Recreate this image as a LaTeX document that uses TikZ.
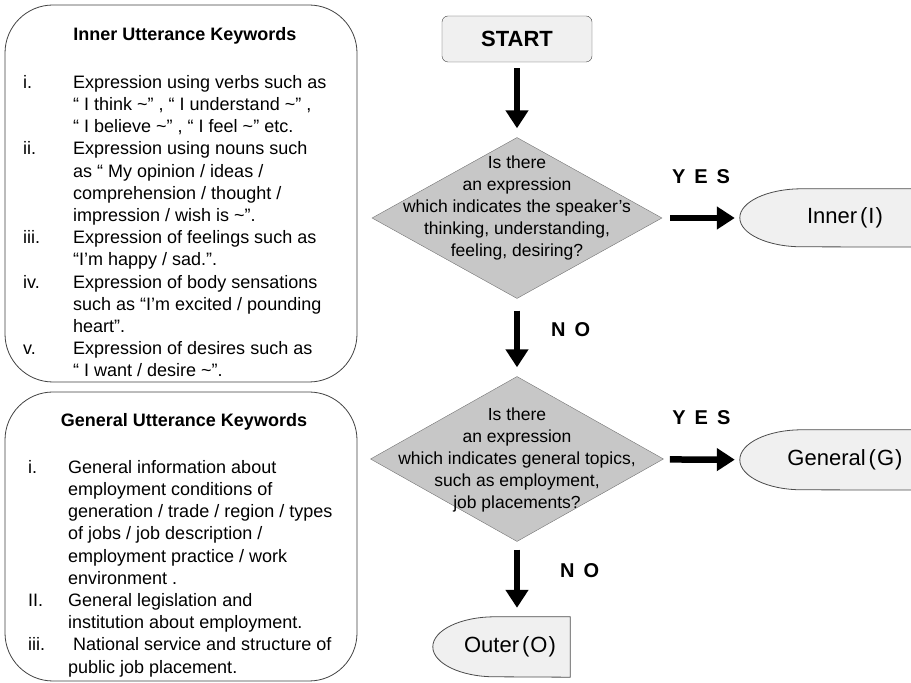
\documentclass[tikz,border=0pt]{standalone}
\usepackage{fontspec}
\setmainfont{Liberation Sans}
\usetikzlibrary{shapes.geometric,arrows.meta,backgrounds,positioning}

\tikzset{
  keybox/.style={draw=black!75,fill=white,rounded corners=48pt,line width=0.8pt},
  keytitle/.style={font=\fontsize{18}{22}\selectfont\bfseries},
  keylist/.style={inner sep=0pt,anchor=north west,font=\fontsize{18}{22.2}\selectfont},
  startbox/.style={draw=black!75,fill=black!6,rounded corners=6pt,minimum width=150pt,minimum height=46pt,font=\fontsize{22}{26}\selectfont\bfseries},
  question/.style={diamond,draw=black!55,fill=black!22,inner sep=0pt},
  qtext/.style={align=center,font=\fontsize{17.5}{22}\selectfont},
  term/.style={font=\fontsize{22}{26}\selectfont},
  termline/.style={draw=black!70,fill=black!6,line width=0.8pt},
  flow/.style={line width=6.5pt,-{Triangle[length=18pt,width=22pt]}},
  answer/.style={font=\fontsize{20}{24}\selectfont\bfseries,execute at begin node={\spaceskip=0.45em\relax}}
}

\begin{document}
\begin{tikzpicture}[x=1pt,y=1pt]
\useasboundingbox (0,0) rectangle (911,683);
%keyword boxes
\node[keybox,minimum width=352pt,minimum height=377pt] (innerbox) at (181,489.5) {};
\node[keytitle] (innertitle) at (185,647) {Inner Utterance Keywords};
\node[keylist] (innerlist) at (23,610.5) {\begin{tabular}{@{}p{50pt}@{}l@{}}
i.   & Expression using verbs such as\\
     & “ I think \textasciitilde” , “ I understand \textasciitilde” ,\\
     & “ I believe \textasciitilde” , “ I feel \textasciitilde” etc.\\
ii.  & Expression using nouns such\\
     & as “ My opinion / ideas /\\
     & comprehension / thought /\\
     & impression / wish is \textasciitilde”.\\
iii. & Expression of feelings such as\\
     & “I’m happy / sad.”.\\
iv.  & Expression of body sensations\\
     & such as “I’m excited / pounding\\
     & heart”.\\
v.   & Expression of desires such as\\
     & “ I want / desire \textasciitilde”.
\end{tabular}};
\node[keybox,minimum width=352pt,minimum height=289pt] (generalbox) at (181,146.5) {};
\node[keytitle] (generaltitle) at (184,261) {General Utterance Keywords};
\node[keylist] (generallist) at (28,225.5) {\begin{tabular}{@{}p{40pt}@{}l@{}}
i.   & General information about\\
     & employment conditions of\\
     & generation / trade / region / types\\
     & of jobs / job description /\\
     & employment practice / work\\
     & environment .\\
II.  & General legislation and\\
     & institution about employment.\\
iii. & \hspace*{5pt}National service and structure of\\
     & public job placement.
\end{tabular}};
%flow
\node[startbox] (start) at (517,644) {START};
\node[question,minimum width=290pt,minimum height=161pt] (q1) at (517,465) {};
\node[qtext] (q1text) at (517,475) {Is there\\an expression\\which indicates the speaker’s\\thinking, understanding,\\feeling, desiring?};
\node[question,minimum width=293pt,minimum height=165pt] (q2) at (517,224) {};
\node[qtext] (q2text) at (517,223) {Is there\\an expression\\which indicates general topics,\\such as employment,\\job placements?};
%results
\node[term,minimum width=210pt,minimum height=58pt] (inner) at (845,465) {Inner\hspace{3pt}(\hspace{1pt}I\hspace{1pt})};
\node[term,minimum width=210pt,minimum height=60pt] (general) at (845,223) {General\hspace{3pt}(\hspace{1pt}G\hspace{1pt})};
\node[term,minimum width=137pt,minimum height=60pt] (outer) at (501.5,36) {\hspace*{17pt}Outer\hspace{3pt}(\hspace{1pt}O\hspace{1pt})};
\begin{scope}[on background layer]
\clip (0,0) rectangle (911,683);
\foreach \t/\ry in {inner/29,general/30,outer/30}
  \path[termline] (\t.north east) -- ([xshift=62pt]\t.north west) arc(90:270:62pt and \ry pt) -- (\t.south east) -- cycle;
\end{scope}
%arrows
\draw[flow,shorten <=6pt,shorten >=9pt] (start) -- (q1);
\draw[flow,shorten <=8pt,shorten >=5pt] (q1) -- node[answer,above=27.5pt] (yes1) {Y E S} (inner);
\draw[flow,shorten <=12pt,shorten >=9pt] (q1) -- node[answer,pos=0.4,right=27.5pt] (no1) {N O} (q2);
\draw[flow,shorten <=7pt,shorten >=5pt] (q2) -- node[answer,above=28.5pt] (yes2) {Y E S} (general);
\draw[flow,shorten <=8pt,shorten >=9pt] (q2.south) -- node[answer,pos=0.38,right=36.5pt] (no2) {N O} (q2.south |- outer.north);
\end{tikzpicture}
\end{document}
